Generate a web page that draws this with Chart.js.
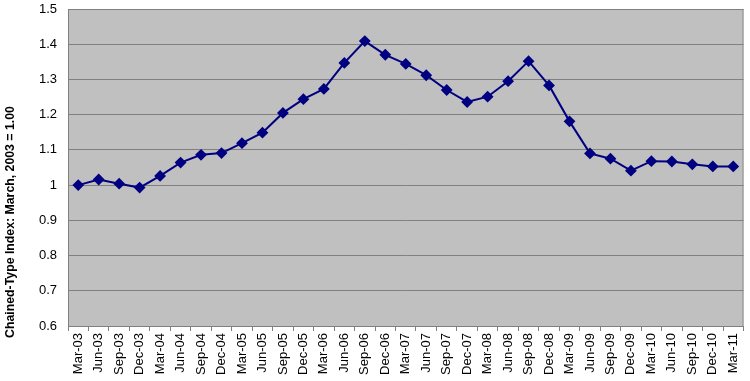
<!DOCTYPE html>
<html>
<head>
<meta charset="utf-8">
<script src="https://cdn.jsdelivr.net/npm/chart.js@4"></script>
<style>
  html, body { margin: 0; padding: 0; background: #fff; }
  #wrap { width: 750px; height: 381px; }
</style>
</head>
<body>
<div id="wrap"><canvas id="myChart" width="750" height="381"></canvas></div>
<script>
const quarters = ['Mar-03','Jun-03','Sep-03','Dec-03','Mar-04','Jun-04','Sep-04','Dec-04',
  'Mar-05','Jun-05','Sep-05','Dec-05','Mar-06','Jun-06','Sep-06','Dec-06',
  'Mar-07','Jun-07','Sep-07','Dec-07','Mar-08','Jun-08','Sep-08','Dec-08',
  'Mar-09','Jun-09','Sep-09','Dec-09','Mar-10','Jun-10','Sep-10','Dec-10','Mar-11'];

const indexValues = [1.000, 1.016, 1.004, 0.993, 1.026, 1.064, 1.086, 1.091,
  1.119, 1.149, 1.205, 1.244, 1.273, 1.347, 1.409, 1.370,
  1.344, 1.312, 1.270, 1.236, 1.251, 1.295, 1.352, 1.283,
  1.181, 1.090, 1.075, 1.041, 1.068, 1.067, 1.059, 1.053, 1.053];

const yTicks = [0.6, 0.7, 0.8, 0.9, 1, 1.1, 1.2, 1.3, 1.4, 1.5];

const yTitle = 'Chained-Type Index: March, 2003 = 1.00';

// gray plot background + axis title placed like the original
const plotBg = {
  id: 'plotBg',
  beforeDraw(chart) {
    const a = chart.chartArea, c = chart.ctx;
    c.save();
    c.fillStyle = '#c0c0c0';
    c.fillRect(a.left, a.top, a.right - a.left, a.bottom - a.top);
    c.strokeStyle = '#8c8c8c';
    c.lineWidth = 1;
    c.strokeRect(a.left + 0.5, a.top + 0.5, a.right - a.left - 1, a.bottom - a.top);
    c.restore();
  },
  afterDraw(chart) {
    const c = chart.ctx;
    c.save();
    c.translate(11, 222);
    c.rotate(-Math.PI / 2);
    c.font = 'bold 12.3px "Liberation Sans", Arial';
    c.fillStyle = '#000';
    c.textAlign = 'center';
    c.textBaseline = 'middle';
    c.fillText(yTitle, 0, 0);
    c.restore();
  }
};

const ctx = document.getElementById('myChart');
new Chart(ctx, {
  type: 'line',
  data: {
    labels: quarters,
    datasets: [{
      label: 'Index',
      data: indexValues,
      borderColor: '#000080',
      backgroundColor: '#000080',
      borderWidth: 2,
      pointStyle: 'rectRot',
      pointRadius: 4.5,
      pointHoverRadius: 4.5,
      tension: 0,
      clip: false
    }]
  },
  options: {
    responsive: false,
    maintainAspectRatio: false,
    animation: false,
    layout: { padding: { left: 0, right: 4, top: 9, bottom: 0 } },
    plugins: {
      legend: { display: false },
      tooltip: { enabled: false }
    },
    scales: {
      x: {
        offset: true,
        grid: {
          offset: true,
          drawOnChartArea: false,
          drawTicks: true,
          tickLength: 5,
          color: '#808080'
        },
        border: { color: '#808080' },
        ticks: {
          autoSkip: false,
          maxRotation: 90,
          minRotation: 90,
          color: '#000',
          padding: 2,
          font: { family: 'Liberation Sans, Arial', size: 13 }
        },
        afterFit(scale) {
          scale.height = 55;
          scale.paddingLeft = 0;
          scale.paddingRight = 0;
        }
      },
      y: {
        min: 0.6,
        max: 1.5,
        afterBuildTicks(scale) { scale.ticks = yTicks.map(v => ({ value: v })); },
        grid: { color: '#808080', lineWidth: 1, drawTicks: false },
        border: { color: '#808080' },
        ticks: {
          color: '#000',
          padding: 11,
          font: { family: 'Liberation Sans, Arial', size: 13 },
          callback: v => String(Math.round(v * 10) / 10)
        },
        afterFit(scale) {
          scale.width = 68;
          scale.paddingTop = 0;
          scale.paddingBottom = 0;
        }
      }
    }
  },
  plugins: [plotBg]
});
</script>
</body>
</html>
